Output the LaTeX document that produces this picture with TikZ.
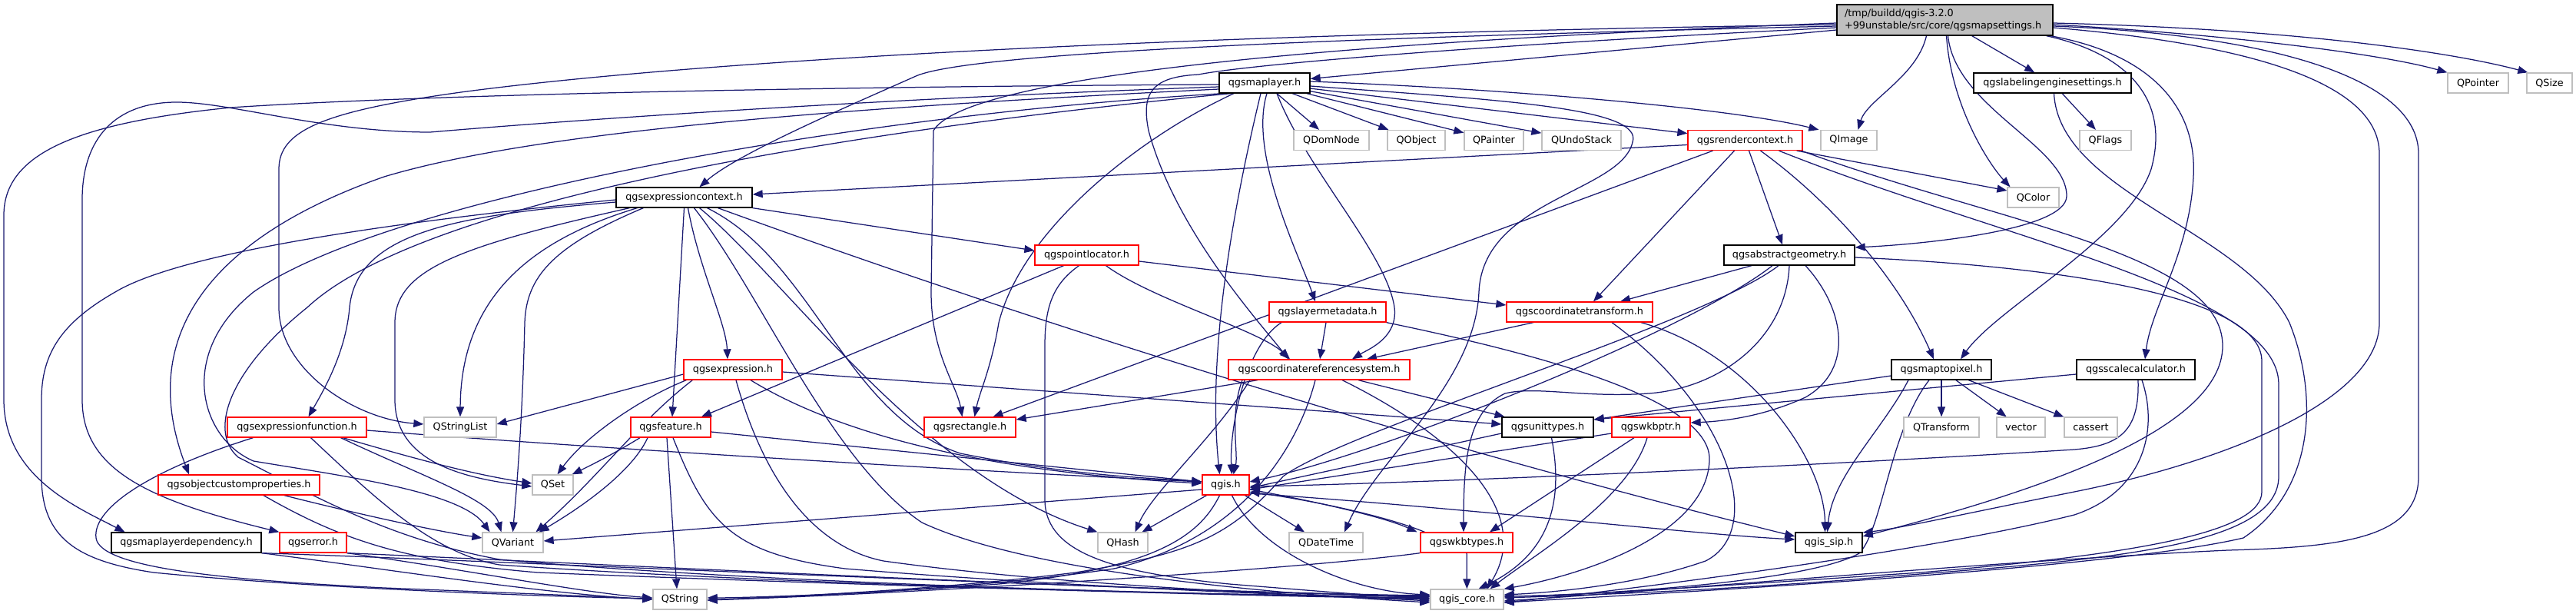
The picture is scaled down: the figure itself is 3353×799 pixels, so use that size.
\documentclass[tikz,border=0pt]{standalone}
\usepackage{fontspec}
\setmainfont{DejaVu Sans}
\usetikzlibrary{arrows.meta}
\definecolor{edgec}{HTML}{191970}
\definecolor{graybd}{HTML}{BFBFBF}
\definecolor{rootfill}{HTML}{BFBFBF}
\newcommand\nfnt{\fontsize{12.8pt}{15.5pt}\selectfont}
\pgfdeclarelayer{back}
\pgfdeclarelayer{bg}
\pgfsetlayers{back,bg,main}
\tikzset{
  e/.style={draw=edgec, line width=1.25pt, -{Triangle[length=13pt,width=10pt]}},
  nd/.style={rectangle, fill=white, minimum height=26pt, inner sep=0pt, line width=1.3pt, font=\nfnt},
  bk/.style={nd, draw=black},
  rd/.style={nd, draw=red},
  gy/.style={nd, draw=graybd},
}
\begin{document}
\begin{tikzpicture}[x=1pt,y=-1pt]
\useasboundingbox (0,0) rectangle (3353,799);
\begin{pgfonlayer}{back}
\fill[white] (0,0) rectangle (3353,799);
\end{pgfonlayer}
% ---------- nodes ----------
\node[nd, draw=black, fill=rootfill, minimum width=281pt, minimum height=40pt, align=left, text width=261pt] (R) at (2531.5,26) {/tmp/buildd/qgis-3.2.0\\+99unstable/src/core/qgsmapsettings.h};
\node[bk, minimum width=118pt] (ML) at (1646,108) {qgsmaplayer.h};
\node[bk, minimum width=205pt] (LES) at (2671.5,108) {qgslabelingenginesettings.h};
\node[gy, minimum width=79pt] (QPointer) at (3225.5,108) {QPointer};
\node[gy, minimum width=59pt] (QSize) at (3318.5,108) {QSize};
\node[gy, minimum width=98pt] (QDomNode) at (1733,182.5) {QDomNode};
\node[gy, minimum width=75pt] (QObject) at (1843.5,182.5) {QObject};
\node[gy, minimum width=77pt] (QPainter) at (1944.5,182.5) {QPainter};
\node[gy, minimum width=103pt] (QUndoStack) at (2058.5,182.5) {QUndoStack};
\node[rd, minimum width=149pt] (RC) at (2271.5,182.5) {qgsrendercontext.h};
\node[gy, minimum width=73pt] (QImage) at (2406.5,182.5) {QImage};
\node[gy, minimum width=67pt] (QFlags) at (2740.5,182.5) {QFlags};
\node[bk, minimum width=177pt] (EC) at (890.5,257) {qgsexpressioncontext.h};
\node[gy, minimum width=67pt] (QColor) at (2646.5,257) {QColor};
\node[rd, minimum width=135pt] (PL) at (1414.5,332) {qgspointlocator.h};
\node[bk, minimum width=170pt] (AG) at (2329,332) {qgsabstractgeometry.h};
\node[rd, minimum width=152pt] (LM) at (1728,406) {qgslayermetadata.h};
\node[rd, minimum width=190pt] (CT) at (2056,406) {qgscoordinatetransform.h};
\node[rd, minimum width=128pt] (EXPR) at (954,481) {qgsexpression.h};
\node[rd, minimum width=236pt] (CRS) at (1717,481) {qgscoordinatereferencesystem.h};
\node[bk, minimum width=130pt] (M2P) at (2527,481) {qgsmaptopixel.h};
\node[bk, minimum width=154pt] (SC) at (2780,481) {qgsscalecalculator.h};
\node[rd, minimum width=181pt] (EF) at (386.5,556) {qgsexpressionfunction.h};
\node[gy, minimum width=94pt] (QStringList) at (599,556) {QStringList};
\node[rd, minimum width=104pt] (FEAT) at (873,556) {qgsfeature.h};
\node[rd, minimum width=119pt] (RECT) at (1262.5,556) {qgsrectangle.h};
\node[bk, minimum width=119pt] (UT) at (2014.5,556) {qgsunittypes.h};
\node[rd, minimum width=102pt] (WP) at (2149,556) {qgswkbptr.h};
\node[gy, minimum width=98pt] (QTransform) at (2527,556) {QTransform};
\node[gy, minimum width=63pt] (vector) at (2630.5,556) {vector};
\node[gy, minimum width=69pt] (cassert) at (2721.5,556) {cassert};
\node[rd, minimum width=210pt] (OCP) at (311,631) {qgsobjectcustomproperties.h};
\node[gy, minimum width=53pt] (QSet) at (719.5,631) {QSet};
\node[rd, minimum width=61pt] (QGIS) at (1595.5,631) {qgis.h};
\node[bk, minimum width=195pt] (MLD) at (242.5,706) {qgsmaplayerdependency.h};
\node[rd, minimum width=87pt] (ERR) at (407.5,706) {qgserror.h};
\node[gy, minimum width=79pt] (QVariant) at (667.5,706) {QVariant};
\node[gy, minimum width=65pt] (QHash) at (1461.5,706) {QHash};
\node[gy, minimum width=96pt] (QDateTime) at (1726,706) {QDateTime};
\node[rd, minimum width=120pt] (WT) at (1909,706) {qgswkbtypes.h};
\node[bk, minimum width=87pt] (SIP) at (2380.5,706) {qgis\_sip.h};
\node[gy, minimum width=70pt] (QString) at (885,780) {QString};
\node[gy, minimum width=95pt] (CORE) at (1909.5,780) {qgis\_core.h};
% ---------- edges ----------
\begin{pgfonlayer}{bg}
% root
\draw[e] (R) -- (ML);
\draw[e] ([xshift=-24pt]R.south) .. controls (2495,100) and (2430,130) .. ([xshift=12pt]QImage.north);
\draw[e] ([xshift=2pt]R.south) .. controls (2540,140) and (2590,215) .. ([xshift=-30pt]QColor.north);
\draw[e] (R) -- (LES);
\draw[e] ([yshift=-6pt]R.east) .. controls (2900,45) and (3100,70) .. (QPointer.north west);
\draw[e] ([yshift=-4pt]R.east) .. controls (3000,38) and (3200,70) .. ([xshift=2pt]QSize.north west);
\draw[e] ([xshift=-9pt]R.south east) .. controls (2770,70) and (2825,130) .. (2800,220) .. controls (2770,310) and (2600,400) .. ([xshift=25pt]M2P.north);
\draw[e] ([xshift=-4pt]R.south east) .. controls (2800,70) and (2860,140) .. (2855,230) .. controls (2850,330) and (2800,400) .. ([xshift=12pt]SC.north);
\draw[e] ([xshift=4pt]R.south) .. controls (2545,140) and (2690,190) .. (2690,255) .. controls (2690,300) and (2500,318) .. ([yshift=10pt]AG.east);
\draw[e] ([yshift=-8pt]R.west) .. controls (1700,50) and (1250,70) .. (1190,100) .. controls (1100,140) and (960,200) .. ([xshift=20pt]EC.north);
\draw[e] ([yshift=-6pt]R.west) .. controls (1500,45) and (900,80) .. (600,120) .. controls (420,145) and (363,170) .. (363,220) -- (363,400) .. controls (363,480) and (460,545) .. ([yshift=4pt]QStringList.west);
\draw[e] ([yshift=-4pt]R.west) .. controls (1600,60) and (1250,110) .. (1215,170) -- (1212,380) .. controls (1212,460) and (1245,500) .. ([xshift=-10pt]RECT.north);
\draw[e] ([yshift=-10pt]R.west) .. controls (1900,60) and (1620,85) .. (1560,97) .. controls (1500,100) and (1485,120) .. (1495,170) .. controls (1530,300) and (1640,420) .. ([xshift=-40pt]CRS.north);
\draw[e] ([yshift=-8pt]R.east) .. controls (2950,45) and (3148,100) .. (3148,200) -- (3148,620) .. controls (3148,700) and (3050,712) .. (2900,716) .. controls (2600,730) and (2150,770) .. ([yshift=-2pt]CORE.east);
\draw[e] ([yshift=-10pt]R.east) .. controls (2900,55) and (3097,100) .. (3097,200) -- (3097,420) .. controls (3097,520) and (2900,600) .. (2700,640) .. controls (2550,670) and (2470,688) .. ([yshift=13pt]SIP.east);
% qgsmaplayer.h
\draw[e] (ML) -- (QDomNode);
\draw[e] (ML) -- (QObject);
\draw[e] (ML) -- (QPainter);
\draw[e] (ML) -- (QUndoStack);
\draw[e] (ML) -- (RC);
\draw[e] ([yshift=2pt]ML.east) .. controls (1950,115) and (2250,140) .. ([xshift=-2pt]QImage.north west);
\draw[e] ([xshift=3pt]ML.south) .. controls (1625,200) and (1690,330) .. ([xshift=-16pt]LM.north);
\draw[e] ([xshift=16pt]ML.south) .. controls (1700,220) and (1805,330) .. (1815,400) .. controls (1820,440) and (1780,455) .. ([xshift=43pt]CRS.north);
\draw[e] ([xshift=-5pt]ML.south) .. controls (1610,250) and (1570,450) .. ([xshift=-8pt]QGIS.north);
\draw[e] ([xshift=-40pt]ML.south) .. controls (1480,180) and (1330,300) .. (1300,420) .. controls (1290,480) and (1275,510) .. ([xshift=6pt]RECT.north);
\draw[e] ([yshift=-4pt]ML.east) .. controls (1950,130) and (2140,140) .. (2125,185) .. controls (2110,250) and (1930,260) .. (1925,380) .. controls (1920,500) and (1790,600) .. ([xshift=24pt]QDateTime.north);
\draw[e] ([yshift=-2pt]ML.west) .. controls (1200,112) and (600,120) .. (300,140) .. controls (100,160) and (5,200) .. (5,280) -- (5,520) .. controls (5,620) and (100,660) .. ([xshift=-80pt]MLD.north);
\draw[e] ([yshift=-5pt]ML.west) .. controls (1100,130) and (700,160) .. (560,172) .. controls (420,172) and (300,133) .. (230,133) .. controls (150,133) and (107,180) .. (107,260) -- (107,520) .. controls (107,610) and (190,650) .. (ERR.north west);
\draw[e] ([yshift=-8pt]ML.west) .. controls (1100,140) and (700,170) .. (500,230) .. controls (300,300) and (170,420) .. ([xshift=-65pt]OCP.north);
\draw[e] ([xshift=6pt]ML.south west) .. controls (1100,150) and (500,260) .. (330,380) .. controls (230,460) and (260,570) .. (330,600) .. controls (450,620) and (600,640) .. ([xshift=-30pt]QVariant.north);
\draw[e] ([xshift=16pt]ML.south west) .. controls (1100,170) and (550,260) .. (400,400) .. controls (300,480) and (270,560) .. (310,595) .. controls (400,640) and (500,700) .. (650,728) .. controls (1000,760) and (1600,776) .. ([yshift=4pt]CORE.west);
% qgsrendercontext.h
\draw[e] ([yshift=-6pt]RC.west) -- ([yshift=4pt]EC.east);
\draw[e] ([xshift=-42pt]RC.south) -- ([xshift=30pt]RECT.north);
\draw[e] ([xshift=-14pt]RC.south) -- ([xshift=18pt]CT.north);
\draw[e] ([xshift=5pt]RC.south) -- ([xshift=-9pt]AG.north);
\draw[e] ([xshift=20pt]RC.south) .. controls (2380,260) and (2470,360) .. ([xshift=-10pt]M2P.north);
\draw[e] ([xshift=-8pt]RC.south east) -- ([yshift=9pt]QColor.west);
\draw[e] ([xshift=-2pt]RC.south east) .. controls (2600,290) and (2893,330) .. (2893,450) .. controls (2893,560) and (2650,640) .. ([yshift=8pt]SIP.east);
\draw[e] ([xshift=44pt]RC.south) .. controls (2600,310) and (2966,380) .. (2966,500) -- (2966,620) .. controls (2966,720) and (2700,730) .. (2400,755) .. controls (2200,770) and (2050,775) .. ([yshift=2pt]CORE.east);
% qgslabelingenginesettings.h
\draw[e] (LES) -- (QFlags);
\draw[e] ([xshift=2pt]LES.south) .. controls (2680,250) and (2920,300) .. (2980,420) .. controls (3020,520) and (3010,640) .. (2920,700) .. controls (2750,740) and (2200,770) .. ([yshift=-4pt]CORE.east);
% qgsabstractgeometry.h
\draw[e] ([xshift=-49pt]AG.south) -- ([xshift=53pt]CT.north);
\draw[e] ([xshift=-22pt]AG.south) .. controls (2200,430) and (1800,590) .. ([yshift=4pt]QGIS.east);
\draw[e] ([xshift=-14pt]AG.south) .. controls (2220,420) and (1750,560) .. (1670,620) .. controls (1600,700) and (1550,720) .. (1400,745) .. controls (1200,770) and (1000,777) .. ([yshift=-1pt]QString.east);
\draw[e] (AG.south) .. controls (2325,440) and (2240,505) .. (2146,512) .. controls (2060,518) and (2000,502) .. (1959,512) .. controls (1910,535) and (1905,600) .. ([xshift=-4pt]WT.north);
\draw[e] ([xshift=21pt]AG.south) .. controls (2400,400) and (2415,480) .. (2350,517) .. controls (2300,540) and (2250,548) .. ([yshift=6pt]WP.east);
\draw[e] ([yshift=-3pt]AG.east) .. controls (2650,345) and (2944,380) .. (2944,470) -- (2944,640) .. controls (2944,690) and (2800,720) .. (2500,745) .. controls (2200,765) and (2050,775) .. ([yshift=4pt]CORE.east);
% qgsexpressioncontext.h
\draw[e] (EC.south east) -- ([yshift=6pt]PL.west);
\draw[e] (EC.south) -- ([xshift=2pt]FEAT.north);
\draw[e] ([xshift=5pt]EC.south) .. controls (910,350) and (945,420) .. ([xshift=-7pt]EXPR.north);
\draw[e] ([xshift=13pt]EC.south) .. controls (990,380) and (1080,600) .. (1200,680) .. controls (1350,750) and (1700,775) .. ([yshift=-4pt]CORE.west);
\draw[e] ([xshift=20pt]EC.south) .. controls (1020,360) and (1200,620) .. (QHash.north west);
\draw[e] ([xshift=30pt]EC.south) .. controls (1060,340) and (1100,540) .. (1250,590) .. controls (1400,620) and (1500,622) .. ([yshift=4pt]QGIS.west);
\draw[e] ([xshift=44pt]EC.south) .. controls (1400,440) and (1900,590) .. ([yshift=8pt]SIP.west);
\draw[e] ([yshift=-3pt]EC.west) .. controls (600,280) and (250,320) .. (150,380) .. controls (80,420) and (54,460) .. (54,520) -- (54,620) .. controls (54,700) and (100,730) .. (200,745) .. controls (400,765) and (700,776) .. ([yshift=1pt]QString.west);
\draw[e] ([yshift=-6pt]EC.west) .. controls (600,280) and (465,300) .. (455,400) .. controls (450,460) and (420,510) .. ([xshift=15pt]EF.north);
\draw[e] ([xshift=18pt]EC.south west) .. controls (600,320) and (514,350) .. (514,420) -- (514,520) .. controls (514,600) and (600,622) .. ([yshift=-2pt]QSet.west);
\draw[e] ([xshift=28pt]EC.south west) .. controls (700,310) and (600,380) .. (QStringList.north);
\draw[e] ([xshift=36pt]EC.south west) .. controls (720,320) and (685,360) .. (683,420) .. controls (680,550) and (672,640) .. (QVariant.north);
% qgspointlocator.h
\draw[e] ([xshift=-30pt]PL.south) -- ([xshift=40pt]FEAT.north);
\draw[e] ([xshift=-10pt]PL.south) .. controls (1370,370) and (1360,400) .. (1360,450) -- (1360,650) .. controls (1360,720) and (1450,745) .. (1600,760) .. controls (1750,772) and (1820,778) .. ([yshift=4pt]CORE.west);
\draw[e] ([xshift=25pt]PL.south) .. controls (1500,390) and (1640,430) .. ([xshift=-38pt]CRS.north);
\draw[e] ([yshift=-8pt]PL.east) -- ([yshift=9pt]CT.west);
% qgslayermetadata.h
\draw[e] ([xshift=-2pt]LM.south) -- ([xshift=1pt]CRS.north);
\draw[e] ([xshift=-60pt]LM.south) .. controls (1620,450) and (1600,560) .. ([xshift=8pt]QGIS.north);
\draw[e] (LM.south east) .. controls (2000,460) and (2230,520) .. (2225,600) .. controls (2220,700) and (2050,750) .. (CORE.north east);
% qgscoordinatetransform.h
\draw[e] ([xshift=-60pt]CT.south) -- ([xshift=62pt]CRS.north);
\draw[e] ([xshift=42pt]CT.south) .. controls (2250,530) and (2300,690) .. (2220,730) .. controls (2120,765) and (2000,772) .. ([yshift=6pt]CORE.east);
\draw[e] ([xshift=80pt]CT.south) .. controls (2280,460) and (2375,600) .. ([xshift=-5pt]SIP.north);
% qgsexpression.h
\draw[e] ([yshift=-6pt]EXPR.west) -- ([yshift=4pt]QStringList.east);
\draw[e] ([xshift=4pt]EXPR.south west) .. controls (830,520) and (760,570) .. ([xshift=6pt]QSet.north);
\draw[e] ([xshift=12pt]EXPR.south west) .. controls (830,550) and (780,620) .. ([xshift=30pt]QVariant.north);
\draw[e] ([yshift=-3pt]EXPR.east) -- ([yshift=4pt]UT.west);
\draw[e] ([xshift=4pt]EXPR.south) .. controls (990,610) and (1050,710) .. (1150,730) .. controls (1400,765) and (1750,776) .. ([yshift=-2pt]CORE.west);
\draw[e] ([xshift=23pt]EXPR.south) .. controls (1100,570) and (1300,615) .. ([yshift=2pt]QGIS.west);
% qgscoordinatereferencesystem.h
\draw[e] ([xshift=-80pt]CRS.south) -- ([yshift=10pt]RECT.east);
\draw[e] ([xshift=-100pt]CRS.south) .. controls (1600,540) and (1612,590) .. ([xshift=10pt]QGIS.north);
\draw[e] ([xshift=-90pt]CRS.south) .. controls (1580,570) and (1500,640) .. ([xshift=16pt]QHash.north);
\draw[e] ([xshift=51pt]CRS.south) -- ([xshift=-56pt]UT.north);
\draw[e] ([xshift=30pt]CRS.south) .. controls (1880,560) and (2000,660) .. ([xshift=26pt]CORE.north);
\draw[e] ([xshift=-5pt]CRS.south) .. controls (1690,580) and (1620,700) .. (1450,740) .. controls (1250,770) and (1000,777) .. ([yshift=-1pt]QString.east);
% qgsmaptopixel.h
\draw[e] (M2P) -- (QTransform);
\draw[e] (M2P) -- (vector);
\draw[e] (M2P) -- (cassert);
\draw[e] ([yshift=-8pt]M2P.west) -- ([yshift=10pt]UT.east);
\draw[e] ([xshift=-43pt]M2P.south) .. controls (2450,560) and (2385,620) .. ([xshift=-2pt]SIP.north);
\draw[e] ([xshift=-16pt]M2P.south) .. controls (2460,560) and (2450,690) .. (2420,720) .. controls (2350,760) and (2050,775) .. ([yshift=4pt]CORE.east);
% qgsscalecalculator.h
\draw[e] ([yshift=-6pt]SC.west) -- ([yshift=10pt]UT.east);
\draw[e] ([xshift=3pt]SC.south) .. controls (2785,560) and (2760,580) .. (2700,585) .. controls (2300,610) and (1800,630) .. ([yshift=-2pt]QGIS.east);
\draw[e] ([xshift=8pt]SC.south) .. controls (2810,560) and (2790,640) .. (2700,670) .. controls (2500,720) and (2100,770) .. ([yshift=-4pt]CORE.east);
% qgsunittypes.h
\draw[e] ([yshift=-8pt]UT.west) -- ([yshift=-4pt]QGIS.east);
\draw[e] ([xshift=5pt]UT.south) .. controls (2035,650) and (2020,720) .. ([xshift=15pt]CORE.north);
% qgswkbptr.h
\draw[e] ([yshift=-8pt]WP.west) -- ([yshift=-6pt]QGIS.east);
\draw[e] ([xshift=-22pt]WP.south) -- ([xshift=30pt]WT.north);
\draw[e] ([xshift=-5pt]WP.south) .. controls (2120,650) and (2000,720) .. ([xshift=30pt]CORE.north);
% qgsfeature.h
\draw[e] ([xshift=-40pt]FEAT.south) .. controls (800,590) and (770,605) .. ([xshift=-2pt]QSet.north east);
\draw[e] ([xshift=-30pt]FEAT.south) .. controls (820,620) and (740,670) .. ([xshift=-6pt]QVariant.north east);
\draw[e] ([yshift=-6pt]FEAT.east) -- ([yshift=4pt]QGIS.west);
\draw[e] ([xshift=-5pt]FEAT.south) -- ([xshift=-4pt]QString.north);
\draw[e] ([xshift=3pt]FEAT.south) .. controls (920,680) and (950,720) .. (1100,740) .. controls (1400,765) and (1750,777) .. (CORE.west);
% qgsexpressionfunction.h
\draw[e] ([xshift=60pt]EF.south) .. controls (550,600) and (620,618) .. ([yshift=2pt]QSet.west);
\draw[e] ([xshift=57pt]EF.south) .. controls (550,620) and (640,650) .. ([xshift=-15pt]QVariant.north);
\draw[e] ([yshift=-4pt]EF.east) .. controls (800,585) and (1300,615) .. ([yshift=4pt]QGIS.west);
\draw[e] ([xshift=-57pt]EF.south) .. controls (200,610) and (120,660) .. (125,700) .. controls (130,740) and (300,755) .. (500,765) .. controls (700,773) and (800,777) .. (QString.west);
\draw[e] ([xshift=18pt]EF.south) .. controls (480,640) and (560,720) .. (650,735) .. controls (1000,760) and (1600,775) .. ([yshift=2pt]CORE.west);
% qgsobjectcustomproperties.h
\draw[e] ([xshift=59pt]OCP.south) .. controls (450,665) and (560,690) .. ([yshift=6pt]QVariant.west);
\draw[e] ([xshift=32pt]OCP.south) .. controls (440,700) and (520,730) .. (700,745) .. controls (1200,765) and (1700,777) .. ([yshift=1pt]CORE.west);
% qgsmaplayerdependency.h, qgserror.h
\draw[e] (MLD.south east) .. controls (500,740) and (700,772) .. (QString.west);
\draw[e] (MLD.south east) .. controls (700,732) and (1500,770) .. ([yshift=5pt]CORE.west);
\draw[e] (ERR.south east) .. controls (600,740) and (760,772) .. ([yshift=2pt]QString.west);
\draw[e] (ERR.south east) .. controls (800,735) and (1500,770) .. ([yshift=4pt]CORE.west);
% qgis.h
\draw[e] ([yshift=-6pt]QGIS.west) -- ([yshift=2pt]QVariant.east);
\draw[e] ([xshift=-25pt]QGIS.south) -- ([xshift=25pt]QHash.north);
\draw[e] ([xshift=25pt]QGIS.south) -- ([xshift=-28pt]QDateTime.north);
\draw[e] ([yshift=-6pt]QGIS.east) .. controls (1700,650) and (1800,672) .. ([xshift=-4pt]WT.north west);
\draw[e] ([yshift=-11pt]QGIS.east) .. controls (1900,660) and (2200,695) .. ([yshift=4pt]SIP.west);
\draw[e] ([xshift=-8pt]QGIS.south) .. controls (1560,700) and (1500,740) .. (1300,760) .. controls (1100,775) and (950,778) .. ([yshift=2pt]QString.east);
\draw[e] ([xshift=8pt]QGIS.south) .. controls (1640,720) and (1760,770) .. ([yshift=6pt]CORE.west);
% qgswkbtypes.h
\draw[e] ([xshift=6pt]WT.north west) .. controls (1800,670) and (1700,650) .. ([yshift=-9pt]QGIS.east);
\draw[e] (WT) -- (CORE);
\draw[e] (WT.south west) .. controls (1700,740) and (1200,772) .. ([yshift=-1pt]QString.east);
\end{pgfonlayer}
\end{tikzpicture}
\end{document}
